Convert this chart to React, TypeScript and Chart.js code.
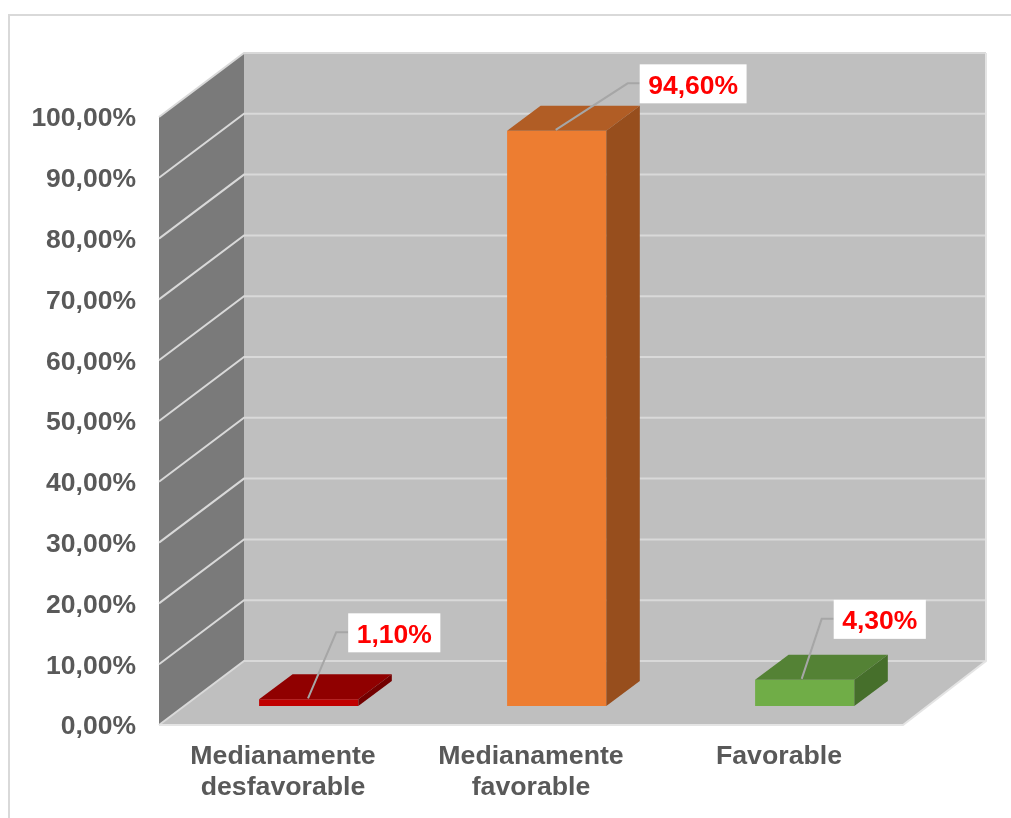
import React, { useEffect, useRef } from "react";
import { Chart, registerables } from "chart.js";

Chart.register(...registerables);

const categories = [["Medianamente", "desfavorable"], ["Medianamente", "favorable"], ["Favorable"]];
const values = [1.1, 94.6, 4.3];
const dataLabels = ["1,10%", "94,60%", "4,30%"];
const tickStep = 10;
const axisMax = 100;

const frontColors = ["#C00000", "#ED7D31", "#70AD47"];
const topColors = ["#900000", "#B15D25", "#548235"];
const sideColors = ["#730000", "#974E1D", "#466F2B"];

const FONT = '"Liberation Sans", Arial, sans-serif';
const TEXT = "#595959";
const WALL = "#BFBFBF";
const SIDE_WALL = "#7A7A7A";
const GRID = "#D9D9D9";
const LEADER = "#A6A6A6";

const WALL_DEPTH = { x: 85, y: -64 };
const WALL_RIGHT_DEPTH_X = 83;
const BAR_SHIFT = { x: 25.7, y: -19 };
const BAR_DEPTH = { x: 33.5, y: -25 };
const Y_LABEL_SHIFT = 2;

// leader line geometry relative to each bar's front-top centre
const leaderLayout = [
  { ax: -0.7, ay: -1, kx: 27.5, ky: -67 },
  { ax: -1, ay: -1, kx: 71, ky: -47.5 },
  { ax: -3, ay: -1, kx: 17, ky: -61 },
];

function poly(ctx: CanvasRenderingContext2D, pts: number[][], fill: string) {
  ctx.beginPath();
  pts.forEach((p, i) => (i ? ctx.lineTo(p[0], p[1]) : ctx.moveTo(p[0], p[1])));
  ctx.closePath();
  ctx.fillStyle = fill;
  ctx.fill();
}

function line(ctx: CanvasRenderingContext2D, pts: number[][], color: string, width = 2) {
  ctx.beginPath();
  pts.forEach((p, i) => (i ? ctx.lineTo(p[0], p[1]) : ctx.moveTo(p[0], p[1])));
  ctx.strokeStyle = color;
  ctx.lineWidth = width;
  ctx.stroke();
}

const scene3d = {
  id: "scene3d",
  afterLayout(chart: any) {
    const s = chart.scales.y;
    const proto = Object.getPrototypeOf(s);
    s.drawLabels = (area: any) => {
      chart.ctx.save();
      chart.ctx.translate(0, Y_LABEL_SHIFT);
      proto.drawLabels.call(s, area);
      chart.ctx.restore();
    };
  },
  beforeDraw(chart: any) {
    const { ctx, width, height } = chart;
    ctx.save();
    ctx.fillStyle = "#FFFFFF";
    ctx.fillRect(0, 0, width, height);
    line(ctx, [[9, height + 2], [9, 15], [width + 2, 15]], GRID, 2);
    ctx.restore();
  },
  beforeDatasetsDraw(chart: any) {
    const { ctx, chartArea: a, scales } = chart;
    const { x: dx, y: dy } = WALL_DEPTH;
    const rx = WALL_RIGHT_DEPTH_X;
    const top = a.top;
    const bot = a.bottom;
    const L = a.left;
    const R = a.right;
    ctx.save();
    poly(ctx, [[L + dx, top + dy], [R + rx, top + dy], [R + rx, bot + dy], [L + dx, bot + dy]], WALL);
    poly(ctx, [[L, top], [L + dx, top + dy], [L + dx, bot + dy], [L, bot]], SIDE_WALL);
    poly(ctx, [[L, bot], [L + dx, bot + dy], [R + rx, bot + dy], [R, bot]], WALL);
    scales.y.ticks.forEach((t: any) => {
      const y = scales.y.getPixelForValue(t.value);
      line(ctx, [[L, y], [L + dx, y + dy], [R + rx, y + dy]], GRID, 2);
    });
    line(ctx, [[R + rx, top + dy], [R + rx, bot + dy], [R, bot], [L, bot]], "#E4E4E4", 2);
    ctx.restore();
    ctx.save();
    ctx.translate(BAR_SHIFT.x, BAR_SHIFT.y);
  },
  afterDatasetsDraw(chart: any) {
    const { ctx } = chart;
    ctx.restore();
    const bars = chart.getDatasetMeta(0).data;
    const { x: dx, y: dy } = BAR_DEPTH;
    ctx.save();
    bars.forEach((bar: any, i: number) => {
      const half = bar.width / 2;
      const l = bar.x - half + BAR_SHIFT.x;
      const r = bar.x + half + BAR_SHIFT.x;
      const t = bar.y + BAR_SHIFT.y;
      const b = bar.base + BAR_SHIFT.y;
      poly(ctx, [[l, t], [l + dx, t + dy], [r + dx, t + dy], [r, t]], topColors[i]);
      poly(ctx, [[r, t], [r + dx, t + dy], [r + dx, b + dy], [r, b]], sideColors[i]);
    });
    ctx.font = `bold 26.5px ${FONT}`;
    ctx.textBaseline = "middle";
    ctx.textAlign = "left";
    bars.forEach((bar: any, i: number) => {
      const cx = bar.x + BAR_SHIFT.x;
      const cy = bar.y + BAR_SHIFT.y;
      const g = leaderLayout[i];
      const kneeX = cx + g.kx;
      const kneeY = cy + g.ky;
      const boxX = kneeX + 12;
      const w = ctx.measureText(dataLabels[i]).width + 17;
      line(ctx, [[cx + g.ax, cy + g.ay], [kneeX, kneeY], [boxX, kneeY]], LEADER, 2);
      ctx.fillStyle = "#FFFFFF";
      ctx.fillRect(boxX, kneeY - 19, w, 39);
      ctx.fillStyle = "#FF0000";
      ctx.fillText(dataLabels[i], boxX + 8.5, kneeY + 3);
    });
    ctx.restore();
  },
};

export default function App() {
  const ref = useRef<HTMLCanvasElement>(null);
  useEffect(() => {
    const chart = new Chart(ref.current as HTMLCanvasElement, {
      type: "bar",
      data: {
        labels: categories as any,
        datasets: [
          {
            data: values,
            backgroundColor: frontColors,
            borderWidth: 0,
            barPercentage: 0.4,
            categoryPercentage: 1,
            clip: false as any,
          },
        ],
      },
      options: {
        animation: false,
        responsive: false,
        devicePixelRatio: 1,
        layout: { padding: { left: 0, top: 117, right: 108, bottom: 0 } },
        plugins: { legend: { display: false }, tooltip: { enabled: false }, title: { display: false } },
        scales: {
          x: {
            grid: { display: false, drawTicks: false },
            border: { display: false },
            afterFit: (s: any) => {
              s.height = 93;
            },
            ticks: {
              padding: 16.5,
              color: TEXT,
              maxRotation: 0,
              autoSkip: false,
              font: { family: FONT, size: 26.7, weight: "bold", lineHeight: 1.16 },
            },
          },
          y: {
            min: 0,
            max: axisMax,
            grid: { display: false, drawTicks: false },
            border: { display: false },
            afterFit: (s: any) => {
              s.width = 159;
            },
            ticks: {
              stepSize: tickStep,
              padding: 23,
              color: TEXT,
              font: { family: FONT, size: 26.5, weight: "bold" },
              callback: (v: any) => Number(v).toFixed(2).replace(".", ",") + "%",
            },
          },
        },
      },
      plugins: [scene3d as any],
    });
    return () => chart.destroy();
  }, []);
  return (
    <div style={{ position: "absolute", left: 0, top: 0, width: 1011, height: 818, overflow: "hidden" }}>
      <canvas ref={ref} width={1011} height={818} style={{ display: "block" }} />
    </div>
  );
}
